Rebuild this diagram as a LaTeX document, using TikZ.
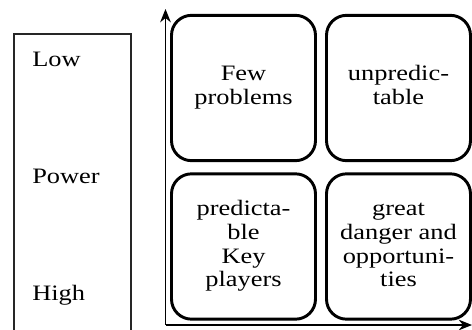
\documentclass[tikz,border=0pt]{standalone}
\usepackage{fontspec}
\usepackage{graphicx}
\setmainfont{Liberation Serif}
\usetikzlibrary{arrows.meta}
\newcommand{\wtxt}[1]{\scalebox{1.2}[1]{\begin{tabular}{@{}c@{}}#1\end{tabular}}}
\begin{document}
\begin{tikzpicture}[x=0.75pt,y=-0.75pt,
  quad/.style={draw=black,line width=2.2pt,rounded corners=15pt,minimum width=108pt,minimum height=109pt,align=center,font=\fontsize{16.5}{17.7}\selectfont,inner sep=0pt},
  lbl/.style={anchor=base west,font=\fontsize{16.5}{17.7}\selectfont,inner sep=0pt},
  axis/.style={line width=0.9pt,-{Stealth[length=10pt,width=8pt]}}]
\useasboundingbox (0,0) rectangle (472,329);
\draw[line width=0.9pt,draw=black!85] (14,332) -- (14,34) -- (131,34) -- (131,332);
\node[lbl] (low) at (32,66) {\scalebox{1.2}[1]{Low}};
\node[lbl] (power) at (32,183) {\scalebox{1.2}[1]{Power}};
\node[lbl] (high) at (32,300) {\scalebox{1.2}[1]{High}};
\coordinate (o) at (165.5,325);
\coordinate (ytop) at (165.5,9);
\coordinate (xend) at (472,325);
\draw[axis] (o) -- (ytop);
\draw[axis] (o) -- (xend);
\node[quad] (q1) at (243.5,88) {\wtxt{Few\\problems}};
\node[quad] (q2) at (398.5,88) {\wtxt{unpredic-\\table}};
\node[quad] (q3) at (243.5,246.5) {\wtxt{predicta-\\ble\\Key\\players}};
\node[quad] (q4) at (398.5,246.5) {\wtxt{great\\danger and\\opportuni-\\ties}};
\end{tikzpicture}
\end{document}
